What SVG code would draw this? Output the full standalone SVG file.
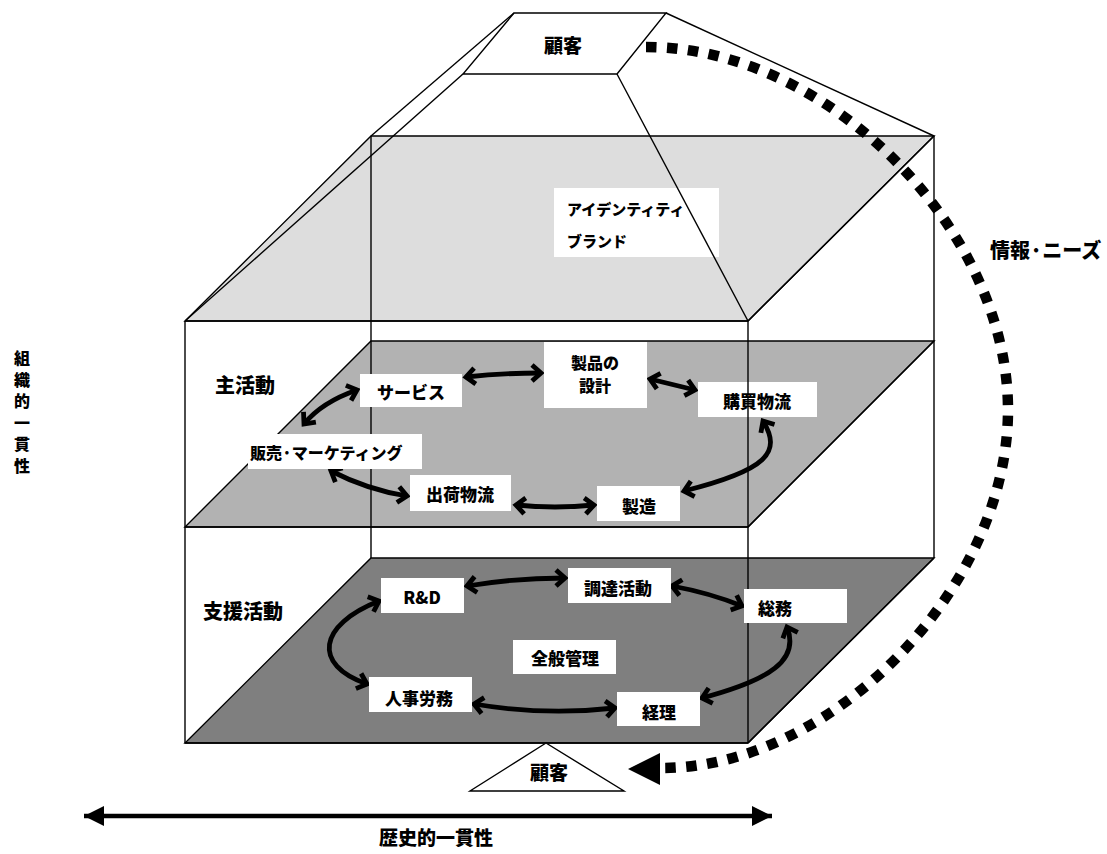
<svg xmlns="http://www.w3.org/2000/svg" width="1107" height="854" viewBox="0 0 1107 854">
  <style>
    .edge { stroke: #000; stroke-width: 1.4; }
    .lbl { font-family: "Noto Sans CJK JP", "Liberation Sans", sans-serif; font-weight: 900; fill: #000; font-size: 17px; dominant-baseline: central; }
    .mid { text-anchor: middle; }
    .big { font-size: 20px; }
    .box { fill: #fff; }
    .flow { fill: none; stroke: #000; stroke-width: 4.8; marker-start: url(#chev); marker-end: url(#chev); }
  </style>
  <defs>
    <marker id="chev" markerUnits="userSpaceOnUse" markerWidth="24" markerHeight="24" viewBox="-14 -12 24 24" refX="0" refY="0" orient="auto-start-reverse">
      <path d="M-9,-8 L0,0 L-9,8" fill="none" stroke="#000" stroke-width="4.8" stroke-linejoin="miter"/>
    </marker>
    <marker id="tri" markerUnits="userSpaceOnUse" markerWidth="24" markerHeight="24" viewBox="-20 -12 24 24" refX="0" refY="0" orient="auto-start-reverse">
      <path d="M-20,-10 L0,0 L-20,10 Z" fill="#000"/>
    </marker>
  </defs>

  <rect width="1107" height="854" fill="#fff"/>

  <!-- box body: shaded layers and back edges -->
  <g id="frame">
    <polygon points="371,136 934,136 748,321 185,321" fill="#dddddd" class="edge"/>
    <polygon points="371,341 934,341 748,527 185,527" fill="#b2b2b2" class="edge"/>
    <polygon points="371,558 934,558 748,743 185,743" fill="#7f7f7f" class="edge"/>
    <line x1="371" y1="136" x2="371" y2="558" class="edge"/>
    <line x1="934" y1="136" x2="934" y2="558" class="edge"/>
    <line x1="185" y1="321" x2="748" y2="321" class="edge"/>
    <line x1="185" y1="321" x2="185" y2="743" class="edge"/>
    <line x1="185" y1="527" x2="748" y2="527" class="edge"/>
    <line x1="185" y1="743" x2="748" y2="743" class="edge"/>
    <!-- roof -->
    <polygon points="514,13 666,13 617,74 463,74" fill="#fff" class="edge"/>
    <line x1="514" y1="13" x2="371" y2="136" class="edge"/>
    <line x1="463" y1="74" x2="185" y2="321" class="edge"/>
    <line x1="666" y1="13" x2="934" y2="136" class="edge"/>
  </g>

  <!-- connectors -->
  <g id="connectors">
    <path class="flow" d="M466,377 Q503,373 541,373"/>
    <path class="flow" d="M650,379 L695,390"/>
    <path class="flow" d="M763,421 C782,452 768,470 684,491"/>
    <path class="flow" d="M357,390 Q322,402 304,424"/>
    <path class="flow" d="M331,471 Q368,490 407,496"/>
    <path class="flow" d="M516,505 Q555,509 594,505"/>
    <path class="flow" d="M467,586 Q515,578 565,578"/>
    <path class="flow" d="M672,586 Q710,593 742,606"/>
    <path class="flow" d="M787,627 C800,660 770,680 702,698"/>
    <path class="flow" d="M379,601 C318,625 312,665 367,684"/>
    <path class="flow" d="M474,704 Q545,716 615,708"/>
    <!-- information / needs loop -->
    <path d="M646,47 C827,47 1008,228 1008,410 C1008,590 830,768 662,768" fill="none" stroke="#000" stroke-width="10.5" stroke-dasharray="10.5 10.5"/>
    <polygon points="628,769 660,753 660,785" fill="#000"/>
    <!-- historical axis -->
    <line x1="84" y1="816" x2="772" y2="816" stroke="#000" stroke-width="4.5" marker-start="url(#tri)" marker-end="url(#tri)"/>
  </g>

  <!-- customer on top -->
  <g id="customer-top">
    <text class="lbl mid" x="563" y="44" style="font-size:19px">顧客</text>
  </g>

  <g id="identity">
    <rect class="box" x="554" y="188" width="165" height="69"/>
    <text class="lbl" style="font-size:15px"><tspan x="567" y="208">アイデンティティ</tspan><tspan x="567" y="240">ブランド</tspan></text>
  </g>

  <g id="primary-title"><text class="lbl big" x="215" y="384">主活動</text></g>
  <g id="support-title"><text class="lbl big" x="203" y="610">支援活動</text></g>

  <g id="product-design">
    <rect class="box" x="544" y="342" width="103" height="66"/>
    <text class="lbl mid" style="font-size:16px"><tspan x="595" y="362">製品の</tspan><tspan x="595" y="385">設計</tspan></text>
  </g>
  <g id="service">
    <rect class="box" x="360" y="374" width="102" height="33"/>
    <text class="lbl mid" x="411" y="391">サービス</text>
  </g>
  <g id="sales">
    <rect class="box" x="248" y="434" width="174" height="35"/>
    <text class="lbl" x="250" y="452" style="font-size:16px">販売·マーケティング</text>
  </g>
  <g id="outbound">
    <rect class="box" x="410" y="475" width="101" height="36"/>
    <text class="lbl mid" x="460" y="493">出荷物流</text>
  </g>
  <g id="operations">
    <rect class="box" x="597" y="486" width="83" height="35"/>
    <text class="lbl mid" x="639" y="505">製造</text>
  </g>
  <g id="inbound">
    <rect class="box" x="698" y="382" width="119" height="35"/>
    <text class="lbl mid" x="757" y="400">購買物流</text>
  </g>

  <g id="rnd">
    <rect class="box" x="381" y="578" width="83" height="35"/>
    <text class="lbl mid" x="422" y="596">R&amp;D</text>
  </g>
  <g id="procurement">
    <rect class="box" x="568" y="568" width="103" height="35"/>
    <text class="lbl mid" x="618" y="587">調達活動</text>
  </g>
  <g id="management">
    <rect class="box" x="513" y="640" width="103" height="34"/>
    <text class="lbl mid" x="565" y="657">全般管理</text>
  </g>
  <g id="hr">
    <rect class="box" x="369" y="677" width="103" height="35"/>
    <text class="lbl mid" x="419" y="697">人事労務</text>
  </g>
  <g id="accounting">
    <rect class="box" x="617" y="692" width="83" height="34"/>
    <text class="lbl mid" x="659" y="711">経理</text>
  </g>

  <!-- front edges drawn over the labels -->
  <g id="frame-front">
    <line x1="617" y1="74" x2="748" y2="321" class="edge"/>
    <line x1="748" y1="321" x2="748" y2="743" class="edge"/>
    <line x1="934" y1="136" x2="748" y2="321" class="edge"/>
    <line x1="934" y1="341" x2="748" y2="527" class="edge"/>
    <line x1="934" y1="558" x2="748" y2="743" class="edge"/>
  </g>

  <g id="general-affairs">
    <rect class="box" x="744" y="589" width="103" height="34"/>
    <text class="lbl" x="758" y="607">総務</text>
  </g>

  <g id="customer-base">
    <polygon points="546,743 470,791 624,791" fill="#fff" class="edge"/>
    <text class="lbl mid" x="549" y="771" style="font-size:19px">顧客</text>
  </g>

  <g id="needs-label"><text class="lbl" x="990" y="249" style="font-size:20px">情報·ニーズ</text></g>

  <g id="org-consistency">
    <text class="lbl" x="22" y="350" writing-mode="vertical-rl" style="font-size:16px; letter-spacing:5.5px; dominant-baseline:auto">組織的一貫性</text>
  </g>

  <g id="hist-consistency"><text class="lbl mid" x="436" y="836" style="font-size:19px">歴史的一貫性</text></g>
</svg>
